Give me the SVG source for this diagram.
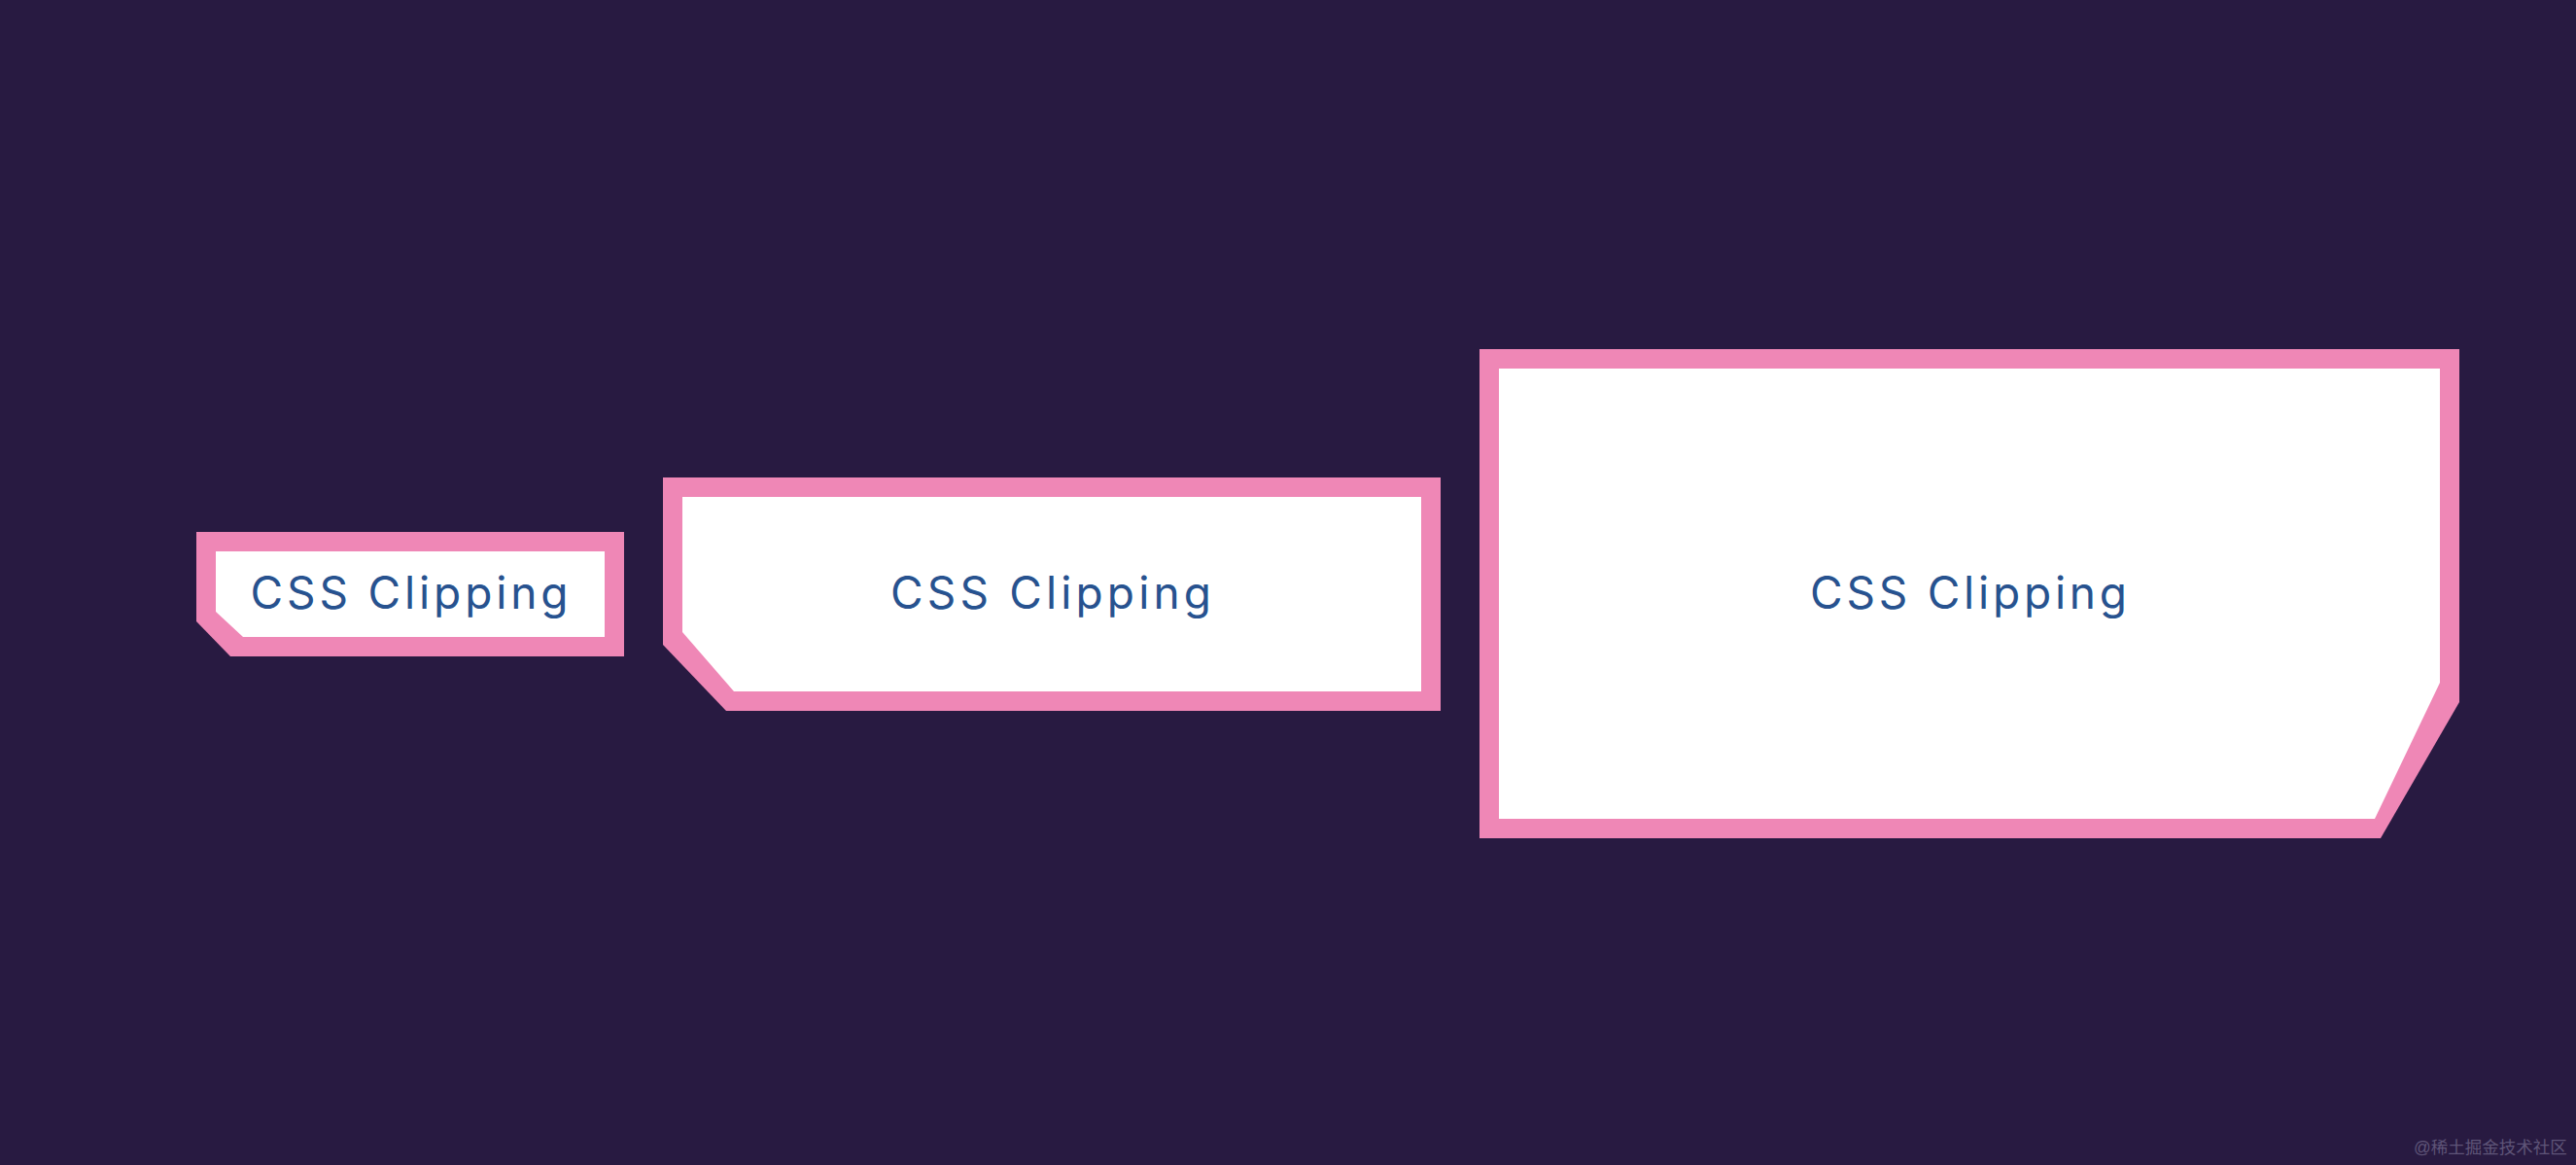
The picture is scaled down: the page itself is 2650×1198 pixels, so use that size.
<svg xmlns="http://www.w3.org/2000/svg" width="2650" height="1198" viewBox="0 0 2650 1198">
  <style>
    .frame { fill: #ef87b6; }
    .inner { fill: #ffffff; }
    .label { font-family: Inter, "Noto Sans", "Liberation Sans", sans-serif; font-size: 46px; fill: #27528f; text-anchor: middle; }
    .mark { font-family: "Liberation Sans", "Noto Sans CJK SC", sans-serif; font-size: 17.5px; fill: #5f5578; }
  </style>
  <rect width="2650" height="1198" fill="#281a41"/>
  <g id="node-small">
    <polygon class="frame" points="202,547 642,547 642,675 237,675 202,639"/>
    <polygon class="inner" points="222,567 622,567 622,655 250,655 222,629"/>
    <text class="label" x="421" y="626" textLength="327" lengthAdjust="spacing">CSS Clipping</text>
  </g>
  <g id="node-medium">
    <polygon class="frame" points="682,491 1482,491 1482,731 747,731 682,663"/>
    <polygon class="inner" points="702,511 1462,511 1462,711 755,711 702,650"/>
    <text class="label" x="1081" y="626" textLength="330" lengthAdjust="spacing">CSS Clipping</text>
  </g>
  <g id="node-large">
    <polygon class="frame" points="1522,359 2530,359 2530,722 2449,862 1522,862"/>
    <polygon class="inner" points="1542,379 2510,379 2510,702 2443,842 1542,842"/>
    <text class="label" x="2025" y="626" textLength="326" lengthAdjust="spacing">CSS Clipping</text>
  </g>
  <g id="connectors"/>
  <text class="mark" x="2483" y="1186">@稀土掘金技术社区</text>
</svg>
